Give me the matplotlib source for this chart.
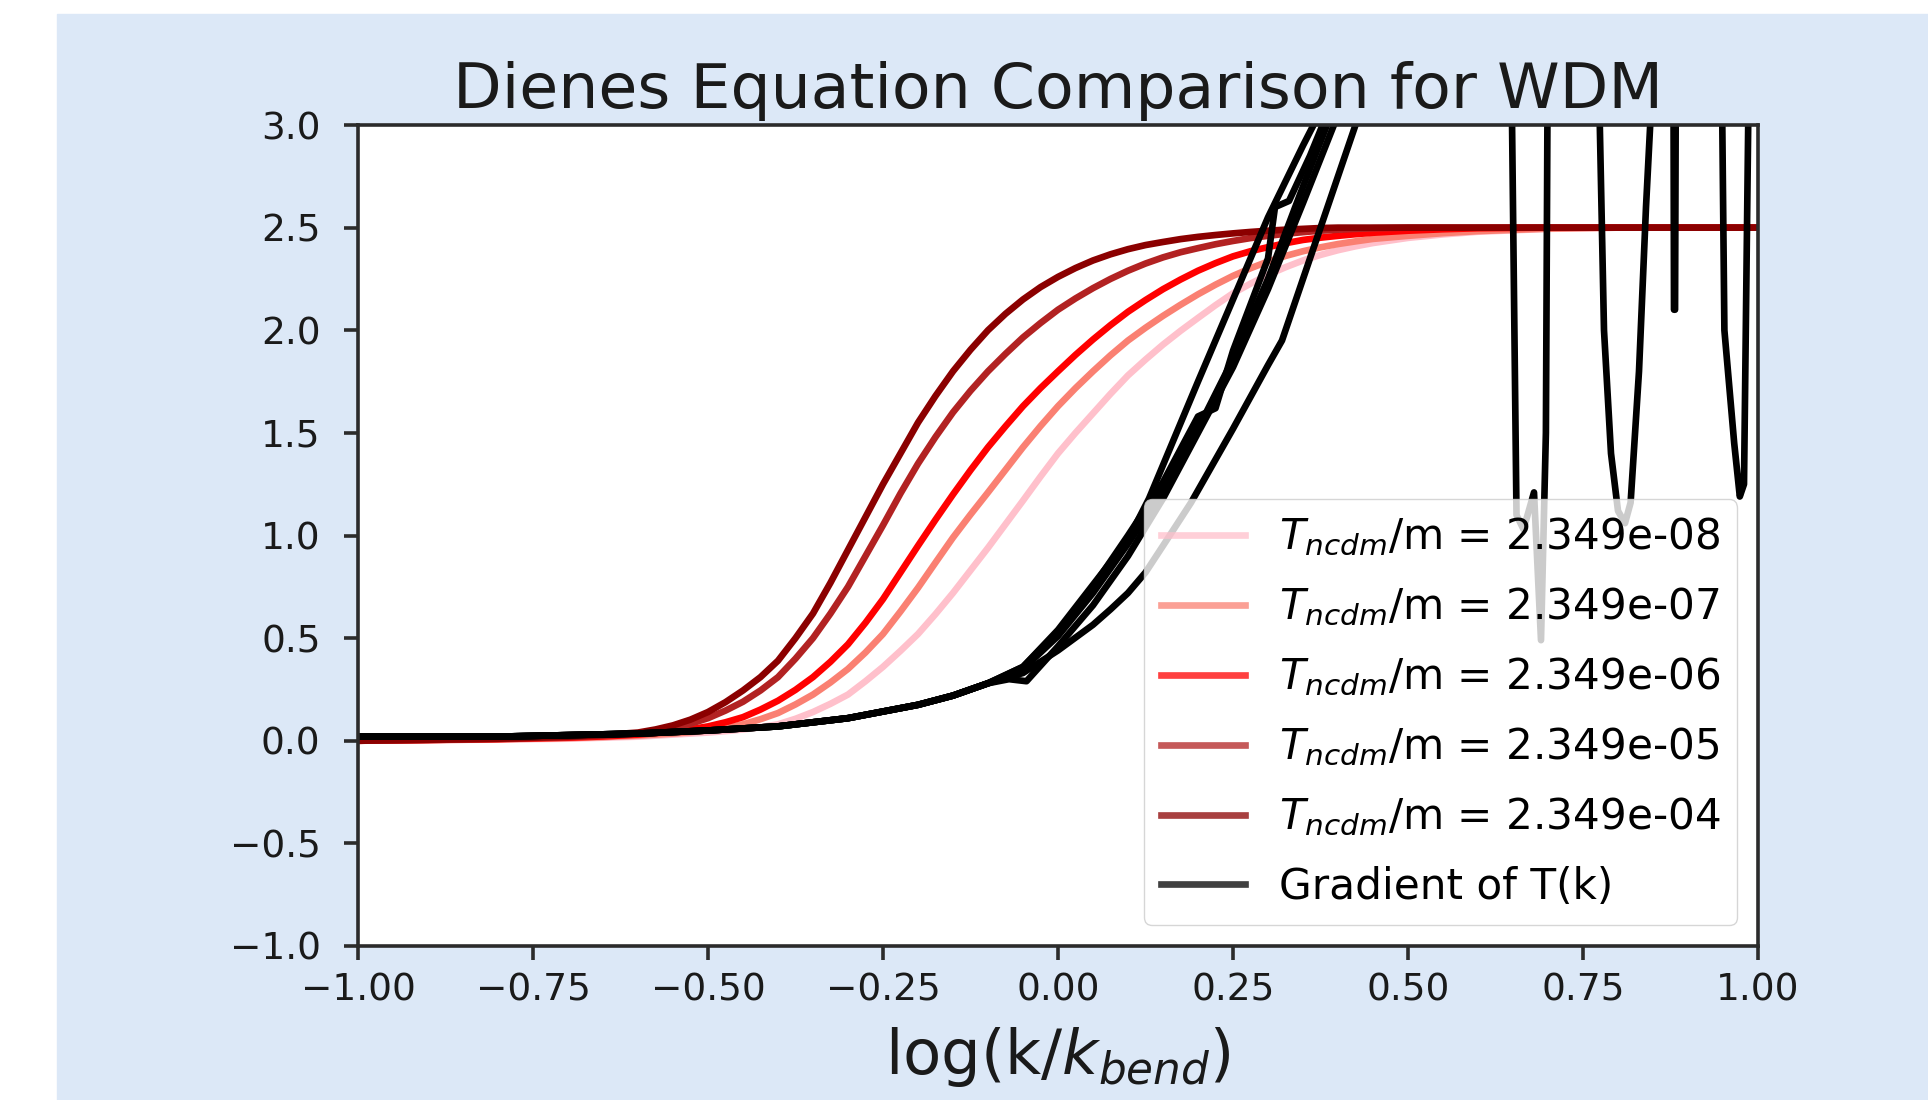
import matplotlib
matplotlib.use('Agg')
import matplotlib.pyplot as plt
import matplotlib.ticker as mticker
from matplotlib.patches import Rectangle

# Dienes fits, all read on one log(k/k_bend) grid
x_fit = [-1.0, -0.9, -0.8, -0.7, -0.65,
         -0.6, -0.575, -0.55, -0.525, -0.5, -0.475, -0.45, -0.425, -0.4, -0.375,
         -0.35, -0.325, -0.3, -0.275, -0.25, -0.225, -0.2, -0.175, -0.15, -0.125,
         -0.1, -0.075, -0.05, -0.025, 0.0, 0.025, 0.05, 0.075, 0.1, 0.125,
         0.15, 0.175, 0.2, 0.225, 0.25, 0.275, 0.3, 0.325, 0.35, 0.375,
         0.4, 0.425, 0.45,
         0.5, 0.55, 0.6, 0.7, 0.8, 0.9, 1.0]
fit_e08 = [0.0, 0.003, 0.006, 0.01, 0.015,
           0.02, 0.025, 0.03, 0.035, 0.04, 0.047, 0.055, 0.066, 0.08, 0.107,
           0.14, 0.18, 0.225, 0.29, 0.36, 0.438, 0.52, 0.617, 0.72, 0.83,
           0.94, 1.055, 1.17, 1.287, 1.40, 1.50, 1.595, 1.69, 1.78, 1.857,
           1.93, 1.997, 2.06, 2.122, 2.18, 2.227, 2.27, 2.307, 2.34, 2.367,
           2.39, 2.409, 2.425,
           2.45, 2.467, 2.48, 2.494, 2.5, 2.5, 2.5]
fit_e07 = [0.0, 0.003, 0.007, 0.013, 0.018,
           0.025, 0.03, 0.035, 0.042, 0.05, 0.063, 0.08, 0.105, 0.135, 0.177,
           0.225, 0.284, 0.35, 0.43, 0.52, 0.63, 0.745, 0.868, 0.99, 1.102,
           1.21, 1.32, 1.43, 1.533, 1.63, 1.718, 1.80, 1.878, 1.95, 2.012,
           2.07, 2.124, 2.175, 2.222, 2.265, 2.302, 2.335, 2.362, 2.385, 2.404,
           2.42, 2.433, 2.445,
           2.46, 2.473, 2.483, 2.495, 2.5, 2.5, 2.5]
fit_e06 = [0.0, 0.004, 0.008, 0.015, 0.021,
           0.03, 0.037, 0.045, 0.056, 0.07, 0.09, 0.115, 0.152, 0.195, 0.248,
           0.31, 0.385, 0.47, 0.575, 0.69, 0.82, 0.95, 1.077, 1.20, 1.318,
           1.43, 1.532, 1.63, 1.718, 1.80, 1.88, 1.955, 2.025, 2.09, 2.147,
           2.20, 2.247, 2.29, 2.327, 2.36, 2.385, 2.405, 2.424, 2.44, 2.451,
           2.46, 2.468, 2.475,
           2.485, 2.492, 2.497, 2.5, 2.5, 2.5, 2.5]
fit_e05 = [0.0, 0.004, 0.009, 0.018, 0.025,
           0.035, 0.046, 0.06, 0.083, 0.11, 0.147, 0.19, 0.245, 0.31, 0.40,
           0.50, 0.62, 0.75, 0.90, 1.05, 1.205, 1.35, 1.48, 1.60, 1.705,
           1.80, 1.885, 1.965, 2.035, 2.10, 2.155, 2.205, 2.25, 2.29, 2.325,
           2.355, 2.38, 2.40, 2.419, 2.435, 2.449, 2.46, 2.47, 2.478, 2.485,
           2.49, 2.494, 2.497,
           2.5, 2.5, 2.5, 2.5, 2.5, 2.5, 2.5]
fit_e04 = [0.0, 0.005, 0.01, 0.02, 0.028,
           0.04, 0.055, 0.075, 0.103, 0.14, 0.188, 0.245, 0.31, 0.39, 0.50,
           0.62, 0.77, 0.93, 1.09, 1.25, 1.40, 1.55, 1.68, 1.80, 1.905,
           2.0, 2.08, 2.15, 2.21, 2.26, 2.303, 2.34, 2.37, 2.395, 2.415,
           2.43, 2.444, 2.455, 2.464, 2.472, 2.479, 2.485, 2.49, 2.494, 2.498,
           2.5, 2.5, 2.5,
           2.5, 2.5, 2.5, 2.5, 2.5, 2.5, 2.5]
fits = [fit_e08, fit_e07, fit_e06, fit_e05, fit_e04]
fit_labels = [r'$T_{ncdm}$/m = 2.349e-08', r'$T_{ncdm}$/m = 2.349e-07',
              r'$T_{ncdm}$/m = 2.349e-06', r'$T_{ncdm}$/m = 2.349e-05',
              r'$T_{ncdm}$/m = 2.349e-04']
fit_colors = ['pink', 'salmon', 'red', 'firebrick', 'darkred']

# numerical gradients of T(k): shared flat start, then each one on its own
grad_x_head = [-1.0, -0.8, -0.6, -0.5, -0.4, -0.3, -0.2, -0.15, -0.1]
grad_y_head = [0.02, 0.02, 0.035, 0.05, 0.07, 0.11, 0.175, 0.22, 0.28]

grad1_x = [-0.05, 0.0, 0.05, 0.1, 0.13, 0.2, 0.25, 0.3, 0.35, 0.38, 0.42, 0.5, 0.64,
           0.648, 0.655, 0.665, 0.68, 0.69, 0.697, 0.70, 1.0]
grad1_y = [0.36, 0.54, 0.76, 0.98, 1.18, 1.75, 2.15, 2.55, 2.9, 3.1, 3.6, 3.6, 3.6,
           3.2, 1.1, 1.03, 1.21, 0.49, 1.5, 3.6, 3.6]
grad2_x = [-0.05, 0.0, 0.05, 0.1, 0.15, 0.2, 0.225, 0.25, 0.3, 0.31, 0.33, 0.36, 0.39,
           0.45, 0.77, 0.774, 0.78, 0.79, 0.80, 0.81, 0.818, 0.83, 0.84, 0.846, 0.85, 1.0]
grad2_y = [0.36, 0.53, 0.75, 1.0, 1.26, 1.58, 1.62, 1.9, 2.35, 2.6, 2.63, 2.85, 3.1,
           3.6, 3.6, 3.0, 2.0, 1.4, 1.12, 1.06, 1.16, 1.8, 2.6, 3.0, 3.6, 3.6]
grad3_x = [-0.05, 0.0, 0.05, 0.1, 0.15, 0.2, 0.25, 0.3, 0.35, 0.39, 0.45, 0.879,
           0.880, 0.8815, 0.883, 1.0]
grad3_y = [0.35, 0.51, 0.72, 0.96, 1.22, 1.52, 1.86, 2.25, 2.7, 3.05, 3.6, 3.6,
           2.1, 2.1, 3.6, 3.6]
grad4_x = [-0.07, -0.045, 0.0, 0.05, 0.1, 0.15, 0.2, 0.25, 0.3, 0.35, 0.4, 0.45, 0.945,
           0.949, 0.952, 0.966, 0.974, 0.98, 0.986, 0.99, 1.0]
grad4_y = [0.30, 0.29, 0.46, 0.66, 0.90, 1.18, 1.5, 1.82, 2.2, 2.62, 3.05, 3.6, 3.6,
           3.0, 2.0, 1.45, 1.19, 1.25, 3.0, 3.6, 3.6]
grad5_x = [-0.05, 0.0, 0.05, 0.075, 0.1, 0.125, 0.15, 0.19, 0.25, 0.3, 0.32, 0.36, 0.4,
           0.43, 0.5, 1.0]
grad5_y = [0.33, 0.44, 0.565, 0.64, 0.72, 0.82, 0.95, 1.16, 1.52, 1.83, 1.95, 2.35, 2.75,
           3.05, 3.6, 3.6]
grads = [(grad1_x, grad1_y), (grad2_x, grad2_y), (grad3_x, grad3_y),
         (grad4_x, grad4_y), (grad5_x, grad5_y)]

x_ticks = [-1.0, -0.75, -0.5, -0.25, 0.0, 0.25, 0.5, 0.75, 1.0]
y_ticks = [-1.0, -0.5, 0.0, 0.5, 1.0, 1.5, 2.0, 2.5, 3.0]

fig = plt.figure(figsize=(19.28, 11), dpi=100)
fig.patch.set_facecolor('white')
# light blue page behind the chart (white strip on the left and top)
fig.patches.append(Rectangle((57 / 1928, 0), 1, 1 - 14 / 1100, transform=fig.transFigure,
                             color='#dce8f7', zorder=-1))

ax = fig.add_axes([358 / 1928, 1 - 946 / 1100, 1400 / 1928, 821 / 1100])
ax.set_facecolor('white')

lw = 4.8
for ys, lab, col in zip(fits, fit_labels, fit_colors):
    ax.plot(x_fit, ys, color=col, lw=lw, label=lab, solid_joinstyle='round')

for i, (gx, gy) in enumerate(grads):
    ax.plot(grad_x_head + gx, grad_y_head + gy, color='black', lw=lw,
            solid_joinstyle='round', label='Gradient of T(k)' if i == 0 else None)

ax.set_xlim(-1, 1)
ax.set_ylim(-1, 3)
ax.set_xticks(x_ticks)
ax.set_yticks(y_ticks)
ax.xaxis.set_major_formatter(mticker.FormatStrFormatter('%.2f'))
ax.yaxis.set_major_formatter(mticker.FormatStrFormatter('%.1f'))
ax.set_xticklabels([('%.2f' % v).replace('-', '\u2212') for v in x_ticks])
ax.set_yticklabels([('%.1f' % v).replace('-', '\u2212') for v in y_ticks])

for s in ax.spines.values():
    s.set_linewidth(2.6)
    s.set_color('#2b2b2b')
ax.tick_params(axis='both', labelsize=27, length=10, width=2.6, color='#2b2b2b',
               labelcolor='#1a1a1a')
ax.tick_params(axis='y', pad=17)
ax.tick_params(axis='x', pad=9)

ax.set_title('Dienes Equation Comparison for WDM', fontsize=45.5, pad=12, color='#1a1a1a')
ax.set_xlabel(r'log(k/$k_{bend}$)', fontsize=45, labelpad=12, color='#1a1a1a')

leg = ax.legend(loc='lower right', fontsize=30.3, labelspacing=0.66)
for h in leg.legend_handles:
    h.set_alpha(0.75)

fig.savefig('out.png', dpi=100)
